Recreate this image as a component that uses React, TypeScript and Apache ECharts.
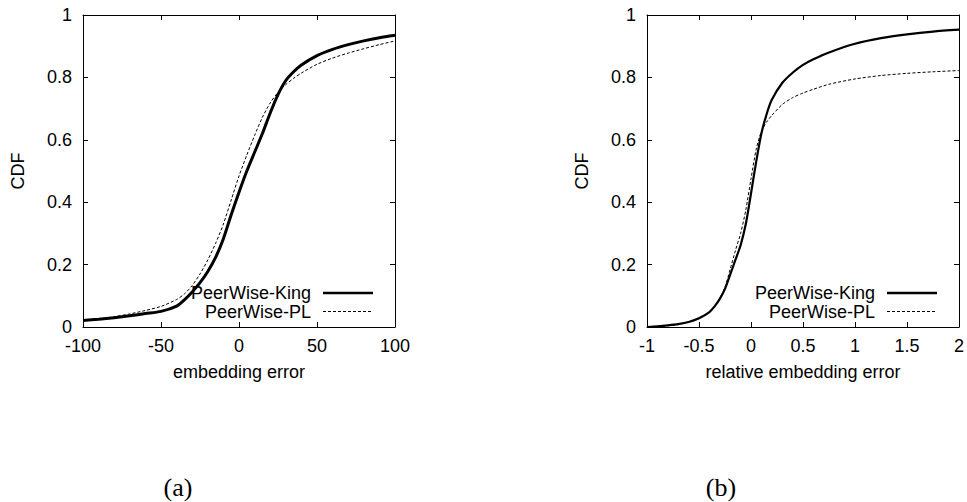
import React, { useEffect, useRef } from "react";
import * as echarts from "echarts";

// Panel (a): embedding error
const errX = [-100, -90, -80, -70, -60, -50, -40, -35, -30, -25, -20, -15, -10, -5, 0, 5, 10, 15, 20, 25, 30, 35, 40, 50, 60, 70, 80, 90, 100];
const kingErr = [0.021, 0.025, 0.030, 0.036, 0.043, 0.050, 0.067, 0.087, 0.112, 0.142, 0.178, 0.223, 0.283, 0.360, 0.432, 0.500, 0.560, 0.620, 0.686, 0.745, 0.790, 0.818, 0.840, 0.870, 0.890, 0.905, 0.917, 0.927, 0.935];
const plErr = [0.021, 0.026, 0.033, 0.042, 0.053, 0.066, 0.088, 0.106, 0.133, 0.170, 0.215, 0.268, 0.330, 0.407, 0.484, 0.551, 0.614, 0.672, 0.718, 0.752, 0.777, 0.797, 0.814, 0.842, 0.862, 0.878, 0.892, 0.905, 0.917];

// Panel (b): relative embedding error
const relX = [-1, -0.9, -0.8, -0.7, -0.6, -0.5, -0.4, -0.35, -0.3, -0.25, -0.2, -0.15, -0.1, -0.05, 0, 0.05, 0.1, 0.15, 0.2, 0.3, 0.4, 0.5, 0.6, 0.75, 1, 1.25, 1.5, 1.75, 2];
const kingRel = [0, 0.002, 0.005, 0.009, 0.016, 0.028, 0.048, 0.066, 0.090, 0.122, 0.168, 0.215, 0.262, 0.330, 0.428, 0.530, 0.620, 0.682, 0.728, 0.782, 0.815, 0.840, 0.858, 0.880, 0.908, 0.926, 0.938, 0.947, 0.953];
const plRel = [0, 0.001, 0.004, 0.008, 0.015, 0.027, 0.048, 0.066, 0.092, 0.128, 0.185, 0.245, 0.300, 0.375, 0.475, 0.570, 0.627, 0.657, 0.678, 0.713, 0.735, 0.750, 0.762, 0.778, 0.795, 0.806, 0.813, 0.818, 0.822];

const seriesNames = ["PeerWise-King", "PeerWise-PL"];
const axisNames = ["embedding error", "relative embedding error"];
const yName = "CDF";
const captions = ["(a)", "(b)"];

const FONT = '"Liberation Sans", Arial, Helvetica, sans-serif';
const SERIF = '"Liberation Serif", "DejaVu Serif", serif';

const zip = (xs: number[], ys: number[]) => xs.map((x, i) => [x, ys[i]]);

export default function App() {
  const ref = useRef<HTMLDivElement>(null);
  useEffect(() => {
    if (!ref.current) return;
    const chart = echarts.init(ref.current, undefined, { renderer: "svg" });

    const grids = [
      { left: 83, top: 15, width: 312, height: 312 },
      { left: 647, top: 15, width: 312, height: 312 },
    ];

    const lineStyle = { color: "#000", width: 1 };
    const labelStyle = { color: "#000", fontFamily: FONT, fontSize: 18 };

    const bottomX = (gi: number, min: number, max: number, interval: number, name: string) => ({
      type: "value",
      gridIndex: gi,
      position: "bottom",
      min,
      max,
      interval,
      name,
      nameLocation: "middle",
      nameGap: 36,
      nameTextStyle: { ...labelStyle },
      axisLine: { show: true, onZero: false, lineStyle },
      axisTick: { show: true, inside: true, length: 5, lineStyle },
      axisLabel: { ...labelStyle, margin: 10 },
      splitLine: { show: false },
    });
    const topX = (gi: number, min: number, max: number, interval: number) => ({
      type: "value",
      gridIndex: gi,
      position: "top",
      min,
      max,
      interval,
      axisLine: { show: true, onZero: false, lineStyle },
      axisTick: { show: true, inside: true, length: 5, lineStyle },
      axisLabel: { show: false },
      splitLine: { show: false },
    });
    const leftY = (gi: number) => ({
      type: "value",
      gridIndex: gi,
      position: "left",
      min: 0,
      max: 1,
      interval: 0.2,
      name: yName,
      nameLocation: "middle",
      nameGap: 56,
      nameTextStyle: { ...labelStyle },
      axisLine: { show: true, onZero: false, lineStyle },
      axisTick: { show: true, inside: true, length: 5, lineStyle },
      axisLabel: { ...labelStyle, margin: 11 },
      splitLine: { show: false },
    });
    const rightY = (gi: number) => ({
      type: "value",
      gridIndex: gi,
      position: "right",
      min: 0,
      max: 1,
      interval: 0.2,
      axisLine: { show: true, onZero: false, lineStyle },
      axisTick: { show: true, inside: true, length: 5, lineStyle },
      axisLabel: { show: false },
      splitLine: { show: false },
    });

    const mkSeries = (name: string, xi: number, yi: number, data: number[][], width: number, dashed: boolean) => ({
      type: "line",
      name,
      xAxisIndex: xi,
      yAxisIndex: yi,
      data,
      showSymbol: false,
      smooth: 0.25,
      lineStyle: { color: "#000", width, type: dashed ? [3, 2] : "solid" },
      z: dashed ? 3 : 2,
    });

    const legendItems = (textRight: number, lineX1: number, lineX2: number, kingWidth: number) => [
      {
        type: "text",
        style: { text: seriesNames[0], x: textRight, y: 293, align: "right", verticalAlign: "middle", fill: "#000", fontFamily: FONT, fontSize: 18 },
        z: 100,
      },
      {
        type: "line",
        shape: { x1: lineX1, y1: 293, x2: lineX2, y2: 293 },
        style: { stroke: "#000", lineWidth: kingWidth },
        z: 100,
      },
      {
        type: "text",
        style: { text: seriesNames[1], x: textRight, y: 312, align: "right", verticalAlign: "middle", fill: "#000", fontFamily: FONT, fontSize: 18 },
        z: 100,
      },
      {
        type: "line",
        shape: { x1: lineX1, y1: 311.5, x2: lineX2, y2: 311.5 },
        style: { stroke: "#000", lineWidth: 1, lineDash: [3, 2] },
        z: 100,
      },
    ];

    chart.setOption({
      animation: false,
      backgroundColor: "#fff",
      grid: grids,
      xAxis: [
        bottomX(0, -100, 100, 50, axisNames[0]),
        topX(0, -100, 100, 50),
        bottomX(1, -1, 2, 0.5, axisNames[1]),
        topX(1, -1, 2, 0.5),
      ],
      yAxis: [leftY(0), rightY(0), leftY(1), rightY(1)],
      series: [
        mkSeries(seriesNames[0], 0, 0, zip(errX, kingErr), 3, false),
        mkSeries(seriesNames[1], 0, 0, zip(errX, plErr), 1, true),
        mkSeries(seriesNames[0], 2, 2, zip(relX, kingRel), 2.2, false),
        mkSeries(seriesNames[1], 2, 2, zip(relX, plRel), 1, true),
      ],
      graphic: [
        ...legendItems(311, 323, 373, 2.6),
        ...legendItems(875, 887, 937, 2.6),
        {
          type: "text",
          style: { text: captions[0], x: 178, y: 487, align: "center", verticalAlign: "middle", fill: "#000", fontFamily: SERIF, fontSize: 26 },
        },
        {
          type: "text",
          style: { text: captions[1], x: 721, y: 487, align: "center", verticalAlign: "middle", fill: "#000", fontFamily: SERIF, fontSize: 26 },
        },
      ],
    });

    return () => chart.dispose();
  }, []);

  return (
    <div
      ref={ref}
      style={{ position: "fixed", left: 0, top: 0, width: 967, height: 502, background: "#fff" }}
    />
  );
}
